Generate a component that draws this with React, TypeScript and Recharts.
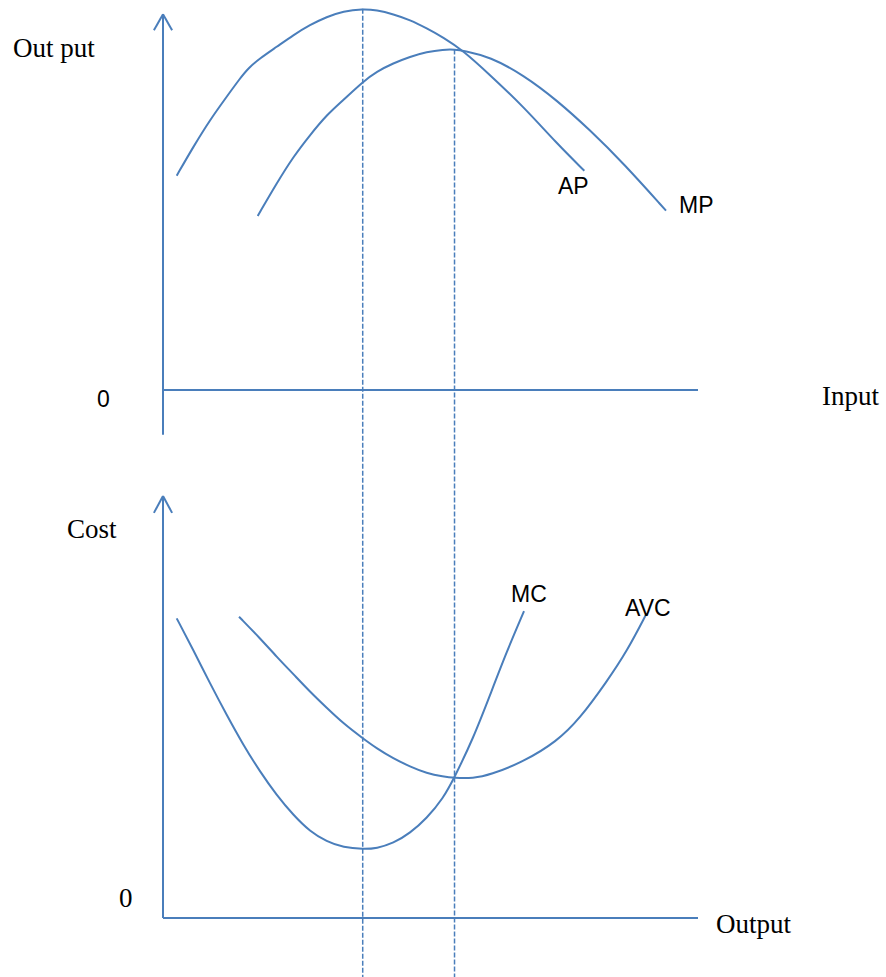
import React from 'react';
import { ComposedChart, Line, XAxis, YAxis, ReferenceLine } from 'recharts';

const W = 886;
const H = 977;

// Quantity axis (input / output), shared by both panels: 0 = origin, 100 = end of axis
const apInput = [2.56, 5.66, 8.79, 11.91, 14.39, 15.94, 18.13, 21.25, 24.36, 27.48, 30.6, 33.7, 37.33, 39.94, 43.05, 46.17, 49.29, 52.39, 56.13, 61.12, 67.35, 73.59, 78.75];
const apValues = [56.4, 64.0, 71.1, 77.2, 82.0, 84.7, 87.3, 90.3, 93.4, 96.1, 98.2, 99.7, 100.3, 100.0, 98.9, 97.4, 95.2, 92.8, 89.3, 82.9, 74.6, 64.9, 57.7];

const mpInput = [17.7, 21.25, 24.36, 27.48, 30.6, 33.7, 37.33, 39.94, 43.05, 46.17, 49.29, 52.39, 54.58, 56.13, 61.12, 67.35, 73.59, 79.81, 86.04, 94.02];
const mpValues = [45.8, 54.4, 61.4, 67.1, 72.4, 76.3, 81.1, 83.8, 86.0, 87.7, 89.0, 89.6, 89.6, 89.3, 87.7, 82.9, 76.3, 68.4, 59.7, 47.2];

const mcOutput = [2.56, 5.66, 8.79, 11.91, 15.01, 18.13, 21.25, 24.36, 27.48, 30.6, 33.7, 37.44, 39.94, 43.05, 46.17, 49.29, 52.39, 54.39, 58.0, 61.12, 64.24, 67.48];
const mcValues = [71.0, 63.5, 55.6, 48.1, 41.0, 34.7, 29.1, 24.4, 20.5, 18.1, 16.7, 16.3, 16.5, 17.7, 20.1, 23.6, 28.4, 33.1, 42.6, 52.8, 63.1, 72.7];

const avcOutput = [14.21, 18.13, 21.25, 24.36, 27.48, 30.6, 33.7, 37.33, 39.94, 43.05, 46.17, 49.29, 52.39, 54.39, 58.0, 61.12, 67.35, 73.59, 77.94, 82.93, 86.67, 90.41];
const avcValues = [71.4, 66.3, 61.9, 57.8, 53.6, 49.8, 46.1, 42.6, 40.2, 37.8, 35.9, 34.3, 33.5, 33.2, 33.1, 33.9, 37.0, 41.8, 47.3, 56.0, 63.1, 72.2];

// Quantities where AP peaks and where MP peaks / AVC is at its minimum
const guideQty = [37.33, 54.49];
const guideTop = [100.3, 89.6];

const toPts = (xs: number[], ys: number[]) => xs.map((x, i) => ({ x, y: ys[i] }));
const apData = toPts(apInput, apValues);
const mpData = toPts(mpInput, mpValues);
const mcData = toPts(mcOutput, mcValues);
const avcData = toPts(avcOutput, avcValues);

// layout: pixel origin & px-per-unit for each axis
const X0 = 163, XS = 5.35;
const P0 = 390, PS = 3.8;
const C0 = 918, CS = 4.22;
const xDomain = [-X0 / XS, (W - X0) / XS];
const prodDomain = [-(H - P0) / PS, P0 / PS];
const costDomain = [-(H - C0) / CS, C0 / CS];

const BLUE = '#4A7EBB';
const axisProps = { stroke: BLUE, strokeWidth: 2, ifOverflow: 'visible' as const };
const lineProps = {
  dataKey: 'y',
  type: 'basis' as const,
  stroke: BLUE,
  strokeWidth: 2,
  dot: false,
  activeDot: false,
  isAnimationActive: false,
};

export default function App() {
  return (
    <div style={{ position: 'absolute', left: 0, top: 0, width: W, height: H, background: '#fff' }}>
      <ComposedChart width={W} height={H} margin={{ top: 0, right: 0, bottom: 0, left: 0 }}>
        <XAxis type="number" dataKey="x" domain={xDomain} allowDataOverflow hide />
        <YAxis yAxisId="prod" type="number" domain={prodDomain} allowDataOverflow hide />
        <YAxis yAxisId="cost" type="number" domain={costDomain} allowDataOverflow hide />

        {/* top panel axes */}
        <ReferenceLine yAxisId="prod" segment={[{ x: 0, y: 98.9 }, { x: 0, y: -11.8 }]} {...axisProps} />
        <ReferenceLine yAxisId="prod" segment={[{ x: 0, y: 98.9 }, { x: -1.7, y: 94.7 }]} {...axisProps} />
        <ReferenceLine yAxisId="prod" segment={[{ x: 0, y: 98.9 }, { x: 1.7, y: 94.7 }]} {...axisProps} />
        <ReferenceLine yAxisId="prod" segment={[{ x: 0, y: 0 }, { x: 100, y: 0 }]} {...axisProps} />

        {/* bottom panel axes */}
        <ReferenceLine yAxisId="cost" segment={[{ x: 0, y: 100 }, { x: 0, y: 0 }]} {...axisProps} />
        <ReferenceLine yAxisId="cost" segment={[{ x: 0, y: 100 }, { x: -1.7, y: 96 }]} {...axisProps} />
        <ReferenceLine yAxisId="cost" segment={[{ x: 0, y: 100 }, { x: 1.7, y: 96 }]} {...axisProps} />
        <ReferenceLine yAxisId="cost" segment={[{ x: 0, y: 0 }, { x: 100, y: 0 }]} {...axisProps} />

        {/* dashed guides */}
        {guideQty.map((q, i) => (
          <ReferenceLine
            key={i}
            yAxisId="prod"
            segment={[{ x: q, y: guideTop[i] }, { x: q, y: prodDomain[0] }]}
            stroke={BLUE}
            strokeWidth={1.5}
            strokeDasharray="5 2"
            ifOverflow="visible"
          />
        ))}

        <Line yAxisId="prod" data={apData} {...lineProps} />
        <Line yAxisId="prod" data={mpData} {...lineProps} />
        <Line yAxisId="cost" data={mcData} {...lineProps} />
        <Line yAxisId="cost" data={avcData} {...lineProps} />
      </ComposedChart>

      <svg width={W} height={H} style={{ position: 'absolute', left: 0, top: 0, pointerEvents: 'none' }}>
        <g fontFamily="'Liberation Serif', 'Times New Roman', serif" fontSize={27} fill="#000">
          <text x={13} y={57}>Out put</text>
          <text x={822} y={405}>Input</text>
          <text x={67} y={538}>Cost</text>
          <text x={716} y={933}>Output</text>
          <text x={119} y={907}>0</text>
        </g>
        <g fontFamily="'Liberation Sans', Arial, sans-serif" fontSize={23} fill="#000">
          <text x={97} y={407}>0</text>
          <text x={558} y={194}>AP</text>
          <text x={679} y={213}>MP</text>
          <text x={511} y={602}>MC</text>
          <text x={625} y={616}>AVC</text>
        </g>
      </svg>
    </div>
  );
}
